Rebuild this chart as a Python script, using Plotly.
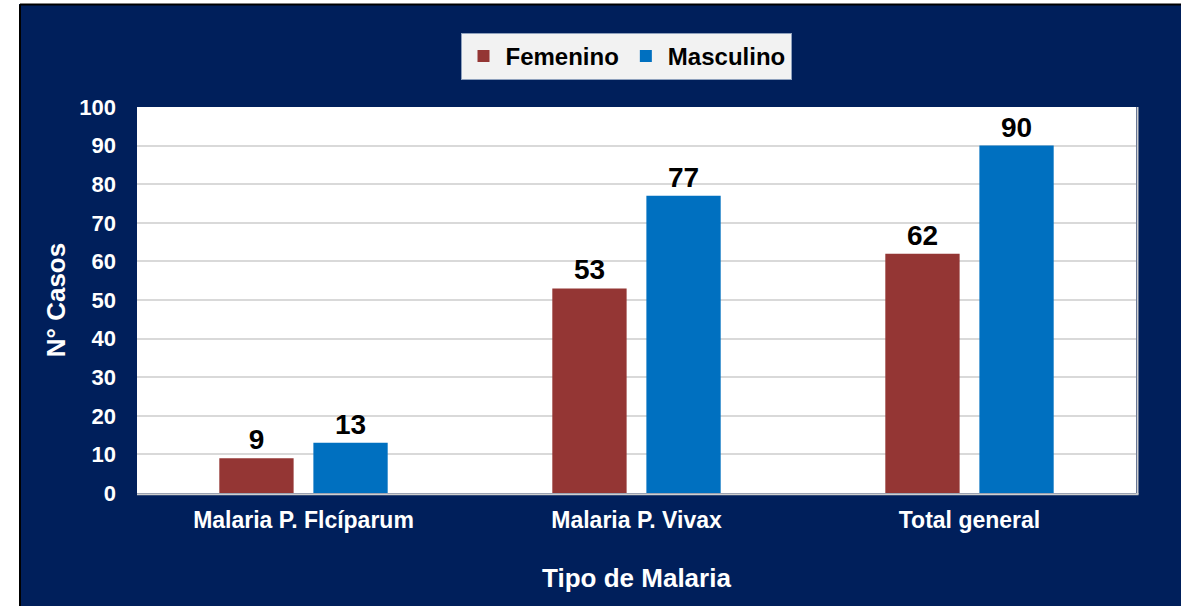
"""Malaria cases by type and sex, grouped bars on a navy frame."""

import plotly.graph_objects as go

categories = ["Malaria P. Flcíparum", "Malaria P. Vivax", "Total general"]
femenino = [9, 53, 62]
masculino = [13, 77, 90]
y_ticks = [0, 10, 20, 30, 40, 50, 60, 70, 80, 90, 100]

NAVY = "#001f5b"
FONT = "Liberation Sans, Arial, sans-serif"

W, H = 1181, 606
L, R, T, B = 137, 1136, 107, 493  # plot area in pixels


def px_x(px):
    return (px - L) / (R - L)


def px_y(py):
    return (B - py) / (B - T)


fig = go.Figure()
for name, vals, color in [("Femenino", femenino, "#943634"), ("Masculino", masculino, "#0070c0")]:
    fig.add_trace(
        go.Bar(
            name=name,
            x=categories,
            y=vals,
            marker={"color": color, "line": {"width": 0}},
            text=[str(v) for v in vals],
            textposition="outside",
            textfont={"family": FONT, "size": 28, "color": "#000000", "weight": "bold"},
            cliponaxis=False,
        )
    )

shapes = [
    # white strip on the left and top, black frame line
    dict(type="rect", xref="paper", yref="paper", x0=px_x(-5), x1=px_x(19), y0=px_y(615), y1=px_y(-5),
         fillcolor="#ffffff", line={"width": 0}, layer="below"),
    dict(type="rect", xref="paper", yref="paper", x0=px_x(-5), x1=px_x(1190), y0=px_y(4), y1=px_y(-5),
         fillcolor="#ffffff", line={"width": 0}, layer="below"),
    dict(type="line", xref="paper", yref="paper", x0=px_x(20), x1=px_x(20), y0=px_y(615), y1=px_y(4.5),
         line={"color": "#000000", "width": 2}),
    dict(type="line", xref="paper", yref="paper", x0=px_x(20), x1=px_x(1190), y0=px_y(4.5), y1=px_y(4.5),
         line={"color": "#000000", "width": 2}),
    # soft shadow on plot area edges
    dict(type="line", xref="paper", yref="paper", x0=1.0015, x1=1.0015, y0=-0.003, y1=1,
         line={"color": "#cfcfcf", "width": 2}),
    dict(type="line", xref="paper", yref="paper", x0=0, x1=1.0025, y0=-0.003, y1=-0.003,
         line={"color": "#cfcfcf", "width": 2}),
]

fig.update_layout(
    width=W,
    height=H,
    margin={"l": L, "r": W - R, "t": T, "b": H - B, "pad": 0},
    paper_bgcolor=NAVY,
    plot_bgcolor="#ffffff",
    barmode="group",
    bargap=0.435,
    bargroupgap=0.21,
    font={"family": FONT, "color": "#ffffff", "weight": "bold"},
    shapes=shapes,
    showlegend=True,
    legend={
        "orientation": "h",
        "x": px_x(626),
        "xanchor": "center",
        "y": px_y(33),
        "yanchor": "top",
        "bgcolor": "#f2f2f2",
        "bordercolor": "#8ea0bc",
        "borderwidth": 1,
        "font": {"family": FONT, "size": 24, "color": "#000000", "weight": "bold"},
        "traceorder": "normal",
        "itemwidth": 34,
    },
    xaxis={
        "title": {"text": "Tipo de Malaria", "font": {"size": 26, "color": "#ffffff", "weight": "bold"},
                  "standoff": 36},
        "tickfont": {"size": 23, "color": "#ffffff", "weight": "bold"},
        "ticklabelstandoff": 11,
        "showline": False,
        "showgrid": False,
    },
    yaxis={
        "title": {"text": "N° Casos", "font": {"size": 26, "color": "#ffffff", "weight": "bold"},
                  "standoff": 6},
        "range": [0, 100],
        "tickvals": y_ticks,
        "tickfont": {"size": 22, "color": "#ffffff", "weight": "bold"},
        "ticklabelstandoff": 20,
        "gridcolor": "#d9d9d9",
        "gridwidth": 2,
        "zeroline": False,
        "showline": False,
    },
)

# page has a default 8px body margin; drop it so the figure sits at the window origin
fig.write_html(
    "out.html",
    config={"displayModeBar": False},
    post_script="document.body.style.margin='0';",
)
